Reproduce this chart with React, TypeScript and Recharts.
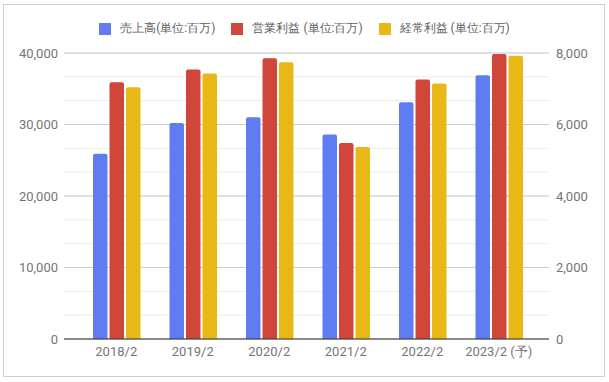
import React from "react";
import {
  BarChart,
  Bar,
  XAxis,
  YAxis,
  CartesianGrid,
  Legend,
} from "recharts";

// fiscal years
const years = ["2018/2", "2019/2", "2020/2", "2021/2", "2022/2", "2023/2 (予)"];

// values in millions of yen
const sales = [25900, 30200, 31000, 28600, 33100, 36900];
const operatingProfit = [7180, 7540, 7850, 5480, 7260, 7970];
const ordinaryProfit = [7040, 7430, 7740, 5370, 7150, 7920];

const leftTicks = [0, 10000, 20000, 30000, 40000];
const rightTicks = [0, 2000, 4000, 6000, 8000];
// minor gridlines: 12 steps across the left axis
const minorSteps = [0, 1, 2, 3, 4, 5, 6, 7, 8, 9, 10, 11, 12];
const minorLines = minorSteps.map((s) => (s * 40000) / 12);

const seriesOrder = ["sales", "operating", "ordinary"];

const data = years.map((year, i) => ({
  year,
  sales: sales[i],
  operating: operatingProfit[i],
  ordinary: ordinaryProfit[i],
}));

const FONT = "Roboto, Arial, sans-serif";
const tickStyle = { fill: "#757575", fontSize: 13, fontFamily: FONT };

const fmt = (v: number) => v.toLocaleString("en-US");

const LegendContent = (props: any) => {
  const items = [...(props.payload || [])].sort(
    (a: any, b: any) => seriesOrder.indexOf(a.dataKey) - seriesOrder.indexOf(b.dataKey)
  );
  return (
    <div
      style={{
        display: "flex",
        justifyContent: "center",
        alignItems: "center",
        fontFamily: FONT,
        fontSize: 12,
        color: "#5f5f5f",
      }}
    >
      {items.map((entry: any, index: number) => (
        <div
          key={`item-${index}`}
          style={{ display: "flex", alignItems: "center", marginLeft: index === 0 ? 0 : 16 }}
        >
          <span
            style={{
              display: "inline-block",
              width: 12,
              height: 12,
              background: entry.color,
              marginRight: 9,
            }}
          />
          <span>{entry.value}</span>
        </div>
      ))}
    </div>
  );
};

const App: React.FC = () => {
  return (
    <div style={{ position: "absolute", left: 0, top: 0, width: 609, height: 382, background: "#fff" }}>
      <div
        style={{
          position: "absolute",
          left: 3,
          top: 4,
          width: 602,
          height: 373,
          boxSizing: "border-box",
          border: "1px solid #cfcfcf",
        }}
      />
      <BarChart
        width={609}
        height={382}
        data={data}
        margin={{ top: 53, right: 10, bottom: 13, left: 10 }}
        barSize={14.5}
        barGap={2}
        style={{ position: "absolute", left: 0, top: 0 }}
      >
        <CartesianGrid
          yAxisId="left"
          vertical={false}
          stroke="#ebebeb"
          horizontalValues={minorLines}
        />
        <CartesianGrid
          yAxisId="left"
          vertical={false}
          stroke="#cccccc"
          horizontalValues={leftTicks}
        />
        <XAxis
          dataKey="year"
          height={30}
          padding={{ left: 14, right: 12 }}
          tickLine={false}
          tickSize={0}
          tickMargin={8}
          axisLine={{ stroke: "#333333" }}
          tick={tickStyle}
          interval={0}
        />
        <YAxis
          yAxisId="left"
          orientation="left"
          width={54}
          domain={[0, 40000]}
          ticks={leftTicks}
          tickFormatter={fmt}
          axisLine={false}
          tickLine={false}
          tickSize={0}
          tickMargin={6}
          tick={tickStyle}
        />
        <YAxis
          yAxisId="right"
          orientation="right"
          width={50}
          domain={[0, 8000]}
          ticks={rightTicks}
          tickFormatter={fmt}
          axisLine={false}
          tickLine={false}
          tickSize={0}
          tickMargin={7}
          tick={tickStyle}
        />
        <Legend
          verticalAlign="middle"
          content={<LegendContent />}
          wrapperStyle={{ top: 20, left: 0, width: 609, height: 18 }}
        />
        <Bar
          yAxisId="left"
          dataKey="sales"
          name="売上高(単位:百万)"
          fill="#5f7cf2"
          radius={[2, 2, 0, 0]}
          isAnimationActive={false}
        />
        <Bar
          yAxisId="right"
          dataKey="operating"
          name="営業利益 (単位:百万)"
          fill="#d0463b"
          radius={[2, 2, 0, 0]}
          isAnimationActive={false}
        />
        <Bar
          yAxisId="right"
          dataKey="ordinary"
          name="経常利益 (単位:百万)"
          fill="#e8b816"
          radius={[2, 2, 0, 0]}
          isAnimationActive={false}
        />
      </BarChart>
    </div>
  );
};

export default App;
